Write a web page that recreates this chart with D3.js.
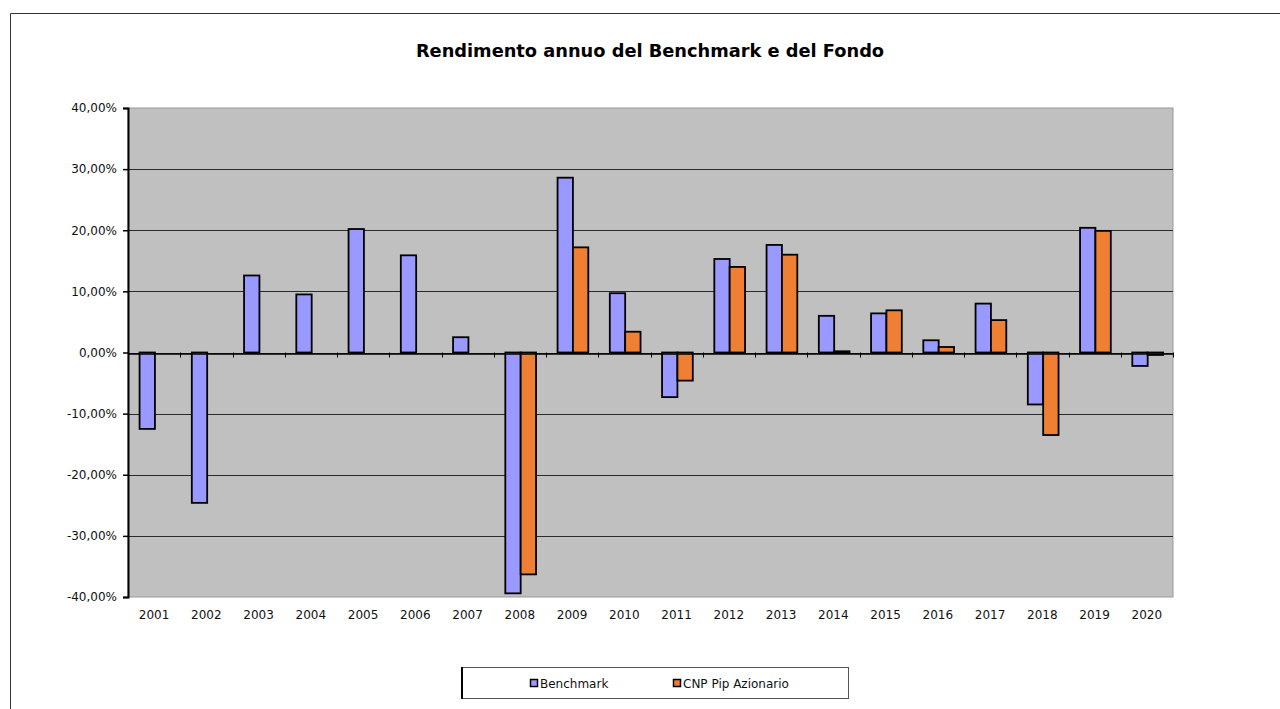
<!DOCTYPE html>
<html><head><meta charset="utf-8">
<script src="https://cdn.jsdelivr.net/npm/d3@7"></script>
<style>body{margin:0;background:#fff}svg{display:block}</style>
</head><body>
<svg id="c" width="1280" height="709"></svg>
<script>
const years = ["2001","2002","2003","2004","2005","2006","2007","2008","2009","2010","2011","2012","2013","2014","2015","2016","2017","2018","2019","2020"];
const benchmark = [-12.5,-24.6,12.6,9.5,20.2,15.9,2.5,-39.4,28.6,9.7,-7.3,15.3,17.6,6.0,6.4,2.0,8.0,-8.5,20.4,-2.2];
const fondo = [null,null,null,null,null,null,null,-36.3,17.2,3.4,-4.6,14.0,16.0,0.2,6.9,0.9,5.3,-13.5,19.9,-0.4];
const seriesNames = ["Benchmark","CNP Pip Azionario"];
const yTicks = [-40,-30,-20,-10,0,10,20,30,40];

const colors = ["#9999ff","#ef8033"];
const svg = d3.select("#c");
const font = "Tahoma, 'DejaVu Sans', Verdana, sans-serif";

// outer frame
svg.append("path").attr("d","M10.5,709 V13.5 H1280").attr("fill","none").attr("stroke","#333").attr("stroke-width",1);

const L=128, R=1173, T=108, B=597;
const x = d3.scaleBand().domain(years).range([L,R]).paddingInner(0).paddingOuter(0);
const y = d3.scaleLinear().domain([-40,40]).range([B,T]);

svg.append("rect").attr("x",L).attr("y",T).attr("width",R-L).attr("height",B-T).attr("fill","#c0c0c0")
  .attr("stroke","#999").attr("stroke-width",1);

// gridlines
svg.append("g").selectAll("line").data(yTicks.filter(d=>d!==-40&&d!==40)).join("line")
  .attr("x1",L).attr("x2",R).attr("y1",d=>Math.round(y(d))+0.5).attr("y2",d=>Math.round(y(d))+0.5)
  .attr("stroke","#2a2a2a").attr("stroke-width",1.2);

// title
svg.append("text").attr("x",650).attr("y",57).attr("text-anchor","middle")
  .attr("font-family",font).attr("font-weight","bold").attr("font-size",17.8).attr("fill","#000")
  .text("Rendimento annuo del Benchmark e del Fondo");

// bars
const inner = d3.scaleBand().domain([0,1]).range([0,x.bandwidth()]).paddingInner(0).paddingOuter(0.7);
const data = [];
years.forEach((yr,i)=>{
  [benchmark[i],fondo[i]].forEach((v,k)=>{ if(v!==null) data.push({yr,k,v}); });
});
svg.append("g").selectAll("rect").data(data).join("rect")
  .attr("x",d=>x(d.yr)+inner(d.k)+0.8)
  .attr("width",inner.bandwidth())
  .attr("y",d=>Math.min(y(d.v),y(0)))
  .attr("height",d=>Math.max(Math.abs(y(d.v)-y(0)),0.5))
  .attr("fill",d=>colors[d.k]).attr("stroke","#000").attr("stroke-width",1.8);

// y axis
const yAxis = svg.append("g").attr("transform",`translate(${L},0)`)
  .call(d3.axisLeft(y).tickValues(yTicks).tickSize(5).tickPadding(6)
    .tickFormat(d=>d.toFixed(2).replace(".",",")+"%"));
yAxis.select(".domain").attr("stroke","#000").attr("stroke-width",2);
yAxis.selectAll(".tick line").attr("stroke","#000").attr("stroke-width",1.5);
yAxis.selectAll("text").attr("font-family",font).attr("font-size",12).attr("fill","#111");

// x axis at zero
const xAxis = svg.append("g").attr("transform",`translate(0,${Math.round(y(0))+0.5})`)
  .call(d3.axisBottom(x).tickSize(0).tickFormat(""));
xAxis.select(".domain").attr("stroke","#000").attr("stroke-width",1.5);
svg.append("g").selectAll("line").data(years.slice(1).concat(["end"])).join("line")
  .attr("x1",(d,i)=>Math.round(L+x.step()*(i+1))+0.5).attr("x2",(d,i)=>Math.round(L+x.step()*(i+1))+0.5)
  .attr("y1",y(0)).attr("y2",y(0)+5).attr("stroke","#000").attr("stroke-width",1);
// x labels at bottom
svg.append("g").selectAll("text").data(years).join("text")
  .attr("x",d=>x(d)+x.bandwidth()/2).attr("y",B+22).attr("text-anchor","middle")
  .attr("font-family",font).attr("font-size",12).attr("fill","#111").text(d=>d);

// legend
svg.append("rect").attr("x",461.5).attr("y",667.5).attr("width",387).attr("height",31)
  .attr("fill","#fff").attr("stroke","#555").attr("stroke-width",1);
svg.append("line").attr("x1",462).attr("x2",462).attr("y1",667).attr("y2",699).attr("stroke","#000").attr("stroke-width",2);
const legX = [530,673];
seriesNames.forEach((n,k)=>{
  svg.append("rect").attr("x",legX[k]+0.5).attr("y",679.5).attr("width",7).attr("height",7)
    .attr("fill",colors[k]).attr("stroke","#000").attr("stroke-width",1.5);
  svg.append("text").attr("x",legX[k]+10).attr("y",688).attr("font-family",font).attr("font-size",12)
    .attr("fill","#111").text(n);
});
</script>
</body></html>
